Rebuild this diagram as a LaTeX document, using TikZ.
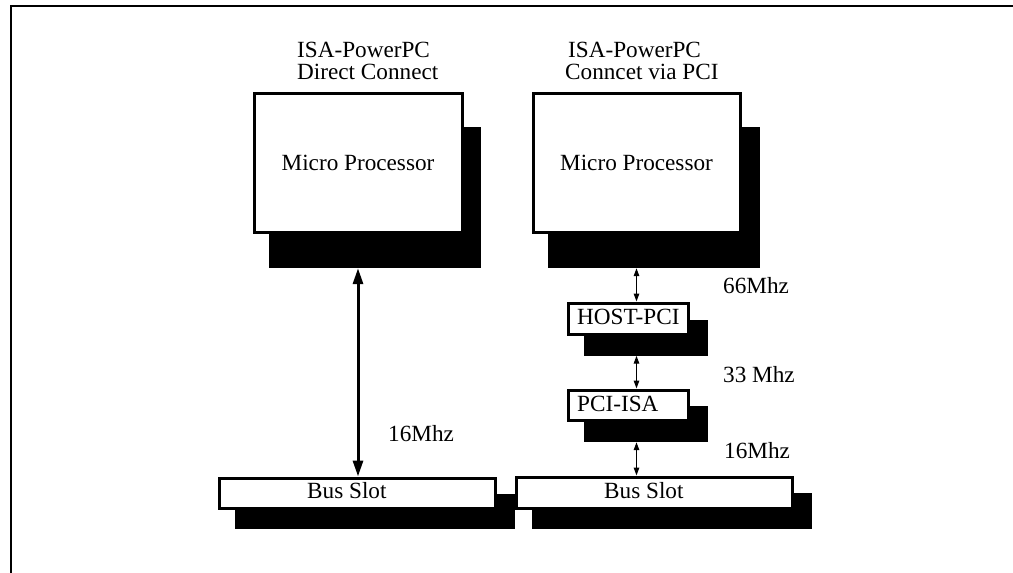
\documentclass[tikz,border=0pt]{standalone}
\usepackage{fontspec}
\setmainfont{Liberation Serif}
\usetikzlibrary{arrows.meta}
\begin{document}
\begin{tikzpicture}[x=1pt,y=-1pt,
  box/.style={draw=black,line width=3pt,fill=white,inner sep=0pt},
  shade/.style={fill=black,draw=none,inner sep=0pt},
  txt/.style={inner sep=0pt,anchor=base west,font=\fontsize{23.2}{20}\selectfont},
  bigarr/.style={line width=3pt,{Triangle[length=16pt,width=10pt]}-{Triangle[length=16pt,width=10pt]}},
  smallarr/.style={line width=1.3pt,{Triangle[length=8pt,width=5.5pt]}-{Triangle[length=8pt,width=5.5pt]}}
]
\useasboundingbox (0,0) rectangle (1013,573);
\fill[white] (0,0) rectangle (1013,573);
% frame
\draw[line width=2pt] (11,573) -- (11,6) -- (1013,6);

% titles
\node[txt] (tL1) at (297,57) {ISA-PowerPC};
\node[txt] (tL2) at (297,79) {Direct Connect};
\node[txt] (tR1) at (568,57) {ISA-PowerPC};
\node[txt] (tR2) at (565,79) {Conncet via PCI};

% left micro processor
\node[shade,minimum width=212pt,minimum height=141pt] (mpLs) at (375,197.5) {};
\node[box,minimum width=208pt,minimum height=139pt,font=\fontsize{23.2}{20}\selectfont] (mpL) at (358,162.5) {Micro Processor};

% right micro processor
\node[shade,minimum width=212pt,minimum height=141pt] (mpRs) at (653.5,197.5) {};
\node[box,minimum width=207pt,minimum height=139pt,font=\fontsize{23.2}{20}\selectfont] (mpR) at (636.5,162.5) {Micro Processor};

% HOST-PCI
\node[shade,minimum width=124pt,minimum height=36pt] (hosts) at (646,337.5) {};
\node[box,minimum width=120pt,minimum height=31pt] (host) at (628,318.5) {};
\node[txt] (hostt) at (577,324) {HOST-PCI};

% PCI-ISA
\node[shade,minimum width=124pt,minimum height=36pt] (pcis) at (646,424) {};
\node[box,minimum width=120pt,minimum height=30pt] (pci) at (628,405) {};
\node[txt] (pcit) at (577,411) {PCI-ISA};

% bus slots
\node[shade,minimum width=280pt,minimum height=35pt] (busLs) at (375,511) {};
\node[shade,minimum width=280pt,minimum height=36pt] (busRs) at (672,511) {};
\node[box,minimum width=276pt,minimum height=30pt] (busL) at (357,493) {};
\node[txt] (busLt) at (307,498) {Bus Slot};
\node[box,minimum width=276pt,minimum height=31pt] (busR) at (654,492.5) {};
\node[txt] (busRt) at (604,498) {Bus Slot};

% connectors
\draw[bigarr] (mpL |- mpLs.south) -- (mpL |- busL.north);
\draw[smallarr] (mpR |- mpRs.south) -- (mpR |- host.north);
\draw[smallarr] (mpR |- hosts.south) -- (mpR |- pci.north);
\draw[smallarr] (mpR |- pcis.south) -- (mpR |- busR.north);

% labels
\node[txt] (f16L) at (388,441) {16Mhz};
\node[txt] (f66) at (723,293) {66Mhz};
\node[txt] (f33) at (723,382) {33 Mhz};
\node[txt] (f16R) at (724,458) {16Mhz};
\end{tikzpicture}
\end{document}
